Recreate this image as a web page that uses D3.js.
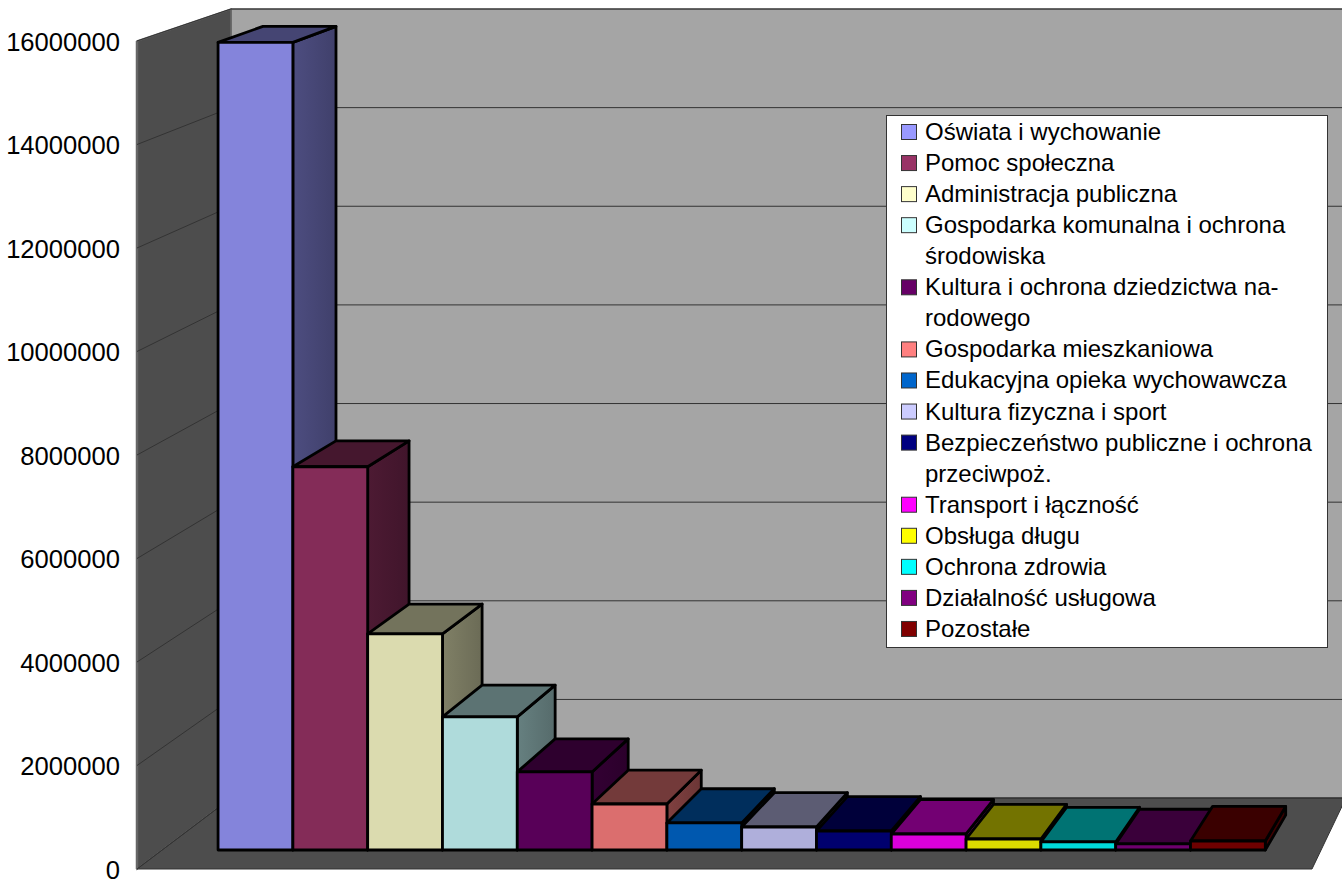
<!DOCTYPE html>
<html>
<head>
<meta charset="utf-8">
<script src="https://cdn.jsdelivr.net/npm/d3@7"></script>
<style>
  html, body { margin: 0; padding: 0; background: #fff; }
  svg { display: block; }
  text { font-family: "Liberation Sans", Arial, sans-serif; fill: #000; }
</style>
</head>
<body>
<div id="chart"></div>
<script>
const categories = ['Oświata i wychowanie', 'Pomoc społeczna', 'Administracja publiczna',
    'Gospodarka komunalna i ochrona środowiska', 'Kultura i ochrona dziedzictwa narodowego',
    'Gospodarka mieszkaniowa', 'Edukacyjna opieka wychowawcza', 'Kultura fizyczna i sport',
    'Bezpieczeństwo publiczne i ochrona przeciwpoż.', 'Transport i łączność', 'Obsługa długu',
    'Ochrona zdrowia', 'Działalność usługowa', 'Pozostałe'];
const values = [15805000, 7500000, 4230000, 2605000, 1528000, 900000, 529000,
    450000, 372000, 313000, 215000, 157000, 118000, 176000];
const colors = ['#9999FF', '#993366', '#FFFFCC', '#CCFFFF', '#660066', '#FF8080', '#0066CC',
    '#CCCCFF', '#000080', '#FF00FF', '#FFFF00', '#00FFFF', '#800080', '#800000'];
// legend text, wrapped as in the original
const legendLines = [['Oświata i wychowanie'], ['Pomoc społeczna'], ['Administracja publiczna'],
    ['Gospodarka komunalna i ochrona', 'środowiska'], ['Kultura i ochrona dziedzictwa na-', 'rodowego'],
    ['Gospodarka mieszkaniowa'], ['Edukacyjna opieka wychowawcza'], ['Kultura fizyczna i sport'],
    ['Bezpieczeństwo publiczne i ochrona', 'przeciwpoż.'], ['Transport i łączność'], ['Obsługa długu'],
    ['Ochrona zdrowia'], ['Działalność usługowa'], ['Pozostałe']];
const yTicks = [0, 2000000, 4000000, 6000000, 8000000, 10000000, 12000000, 14000000, 16000000];

const width = 1342, height = 879;

// Perspective: everything is laid out on the front plane of the box,
// then pulled towards a vanishing point by a depth factor s
const vp = {x: 2136, y: -640};
const depth = {front: 1, barFront: 0.9874, barBack: 0.9643, back: 0.953};
const project = (x, y, s) => [vp.x + s * (x - vp.x), vp.y + s * (y - vp.y)];

const box = {left: 137, right: 1312, backRight: 1307};
const yScale = d3.scaleLinear().domain([0, 16000000]).range([869, 41]);
const xScale = d3.scaleBand().domain(categories).range([box.left - 0.6, box.right - 0.6])
    .paddingInner(0).paddingOuter(0.755);

const svg = d3.select('#chart').append('svg')
    .attr('width', width).attr('height', height)
    .attr('viewBox', '0 0 ' + width + ' ' + height);
const defs = svg.append('defs');

const poly = pts => 'M' + pts.map(p => p.join(',')).join('L') + 'Z';
const shade = (c, k) => { const r = d3.rgb(c); return d3.rgb(r.r * k, r.g * k, r.b * k).formatHex(); };

// WALLS
const y0 = yScale(0), y1 = yScale(16000000);
const walls = svg.append('g').attr('class', 'walls');

walls.append('path')
    .attr('d', poly([project(box.left, y1, depth.back), project(box.right + 60, y1, depth.back),
        project(box.right + 60, y0, depth.back), project(box.left, y0, depth.back)]))
    .attr('fill', '#a5a5a5').attr('stroke', '#444').attr('stroke-width', 1);

walls.append('path')
    .attr('d', poly([project(box.left, y1, 1), project(box.left, y1, depth.back),
        project(box.left, y0, depth.back), project(box.left, y0, 1)]))
    .attr('fill', '#4d4d4d').attr('stroke', '#666').attr('stroke-width', 1.5);

walls.append('path')
    .attr('d', poly([project(box.left, y0, 1), project(box.left, y0, depth.back),
        project(box.backRight, y0, depth.back), project(box.right, y0, 1)]))
    .attr('fill', '#4d4d4d').attr('stroke', '#333').attr('stroke-width', 1);

// GRIDLINES
const grid = svg.append('g').attr('class', 'grid').attr('fill', 'none')
    .attr('stroke', '#333').attr('stroke-width', 1);
yTicks.forEach(function(t) {
    const y = yScale(t);
    const a = project(box.left, y, 1), b = project(box.left, y, depth.back),
        c = project(box.right + 60, y, depth.back);
    grid.append('path').attr('d', 'M' + a + 'L' + b + 'L' + c);
});

// front edge of the side wall
walls.append('path')
    .attr('d', 'M' + project(box.left, y1, 1) + 'L' + project(box.left, y0, 1))
    .attr('stroke', '#666').attr('stroke-width', 2.5);

// AXIS LABELS
svg.append('g').attr('class', 'axis axis--y')
    .selectAll('text').data(yTicks).enter().append('text')
    .attr('x', 120)
    .attr('y', d => yScale(d) + 9.5)
    .attr('text-anchor', 'end')
    .attr('font-size', 25.6)
    .text(d => d);

// BARS
const bars = svg.selectAll('.bar').data(categories).enter().append('g').attr('class', 'bar');

bars.each(function(name, i) {
    const g = d3.select(this);
    const x0 = xScale(name), x1 = x0 + xScale.bandwidth();
    const yb = yScale(0), yt = yScale(values[i]);
    const c = colors[i];

    const gradId = 'side' + i;
    const grad = defs.append('linearGradient').attr('id', gradId);
    grad.append('stop').attr('offset', '0%').attr('stop-color', shade(c, 0.5));
    grad.append('stop').attr('offset', '100%').attr('stop-color', shade(c, 0.42));

    // side
    g.append('path')
        .attr('d', poly([project(x1, yt, depth.barFront), project(x1, yt, depth.barBack),
            project(x1, yb, depth.barBack), project(x1, yb, depth.barFront)]))
        .attr('fill', 'url(#' + gradId + ')');
    // top
    g.append('path')
        .attr('d', poly([project(x0, yt, depth.barFront), project(x0, yt, depth.barBack),
            project(x1, yt, depth.barBack), project(x1, yt, depth.barFront)]))
        .attr('fill', shade(c, 0.45));
    // front
    g.append('path')
        .attr('d', poly([project(x0, yt, depth.barFront), project(x1, yt, depth.barFront),
            project(x1, yb, depth.barFront), project(x0, yb, depth.barFront)]))
        .attr('fill', shade(c, 0.86));

    g.selectAll('path')
        .attr('stroke', '#000').attr('stroke-width', 2.8).attr('stroke-linejoin', 'round');
});

// LEGEND
const legendBox = {x: 886.5, y: 115.5, w: 441, h: 532};
const lineStep = 31.06, firstLine = 132;
const legend = svg.append('g').attr('class', 'legend');

legend.append('rect')
    .attr('x', legendBox.x).attr('y', legendBox.y)
    .attr('width', legendBox.w).attr('height', legendBox.h)
    .attr('fill', '#fff').attr('stroke', '#333').attr('stroke-width', 1);

let row = 0;
legendLines.forEach(function(lines, i) {
    const cy = firstLine + row * lineStep;
    legend.append('rect')
        .attr('x', 901.5).attr('y', cy - 7.5)
        .attr('width', 15).attr('height', 15)
        .attr('fill', colors[i]).attr('stroke', '#333').attr('stroke-width', 1);
    lines.forEach(function(l, j) {
        legend.append('text')
            .attr('x', 925)
            .attr('y', cy + j * lineStep + 8)
            .attr('font-size', 24)
            .text(l);
    });
    row += lines.length;
});
</script>
</body>
</html>
